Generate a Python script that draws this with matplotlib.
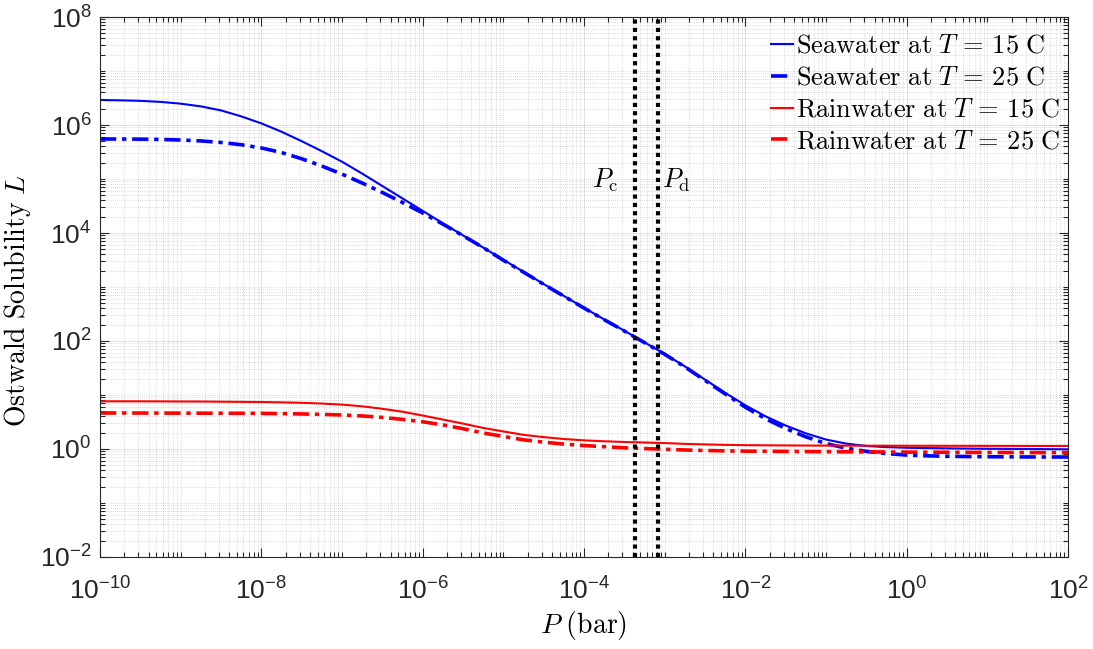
import numpy as np
import matplotlib
matplotlib.use("Agg")
import matplotlib.pyplot as plt
from matplotlib.ticker import LogLocator, FixedLocator, FuncFormatter, NullFormatter

# log10 of pressure (bar), quarter-decade steps
log_P = [-10.0, -9.75, -9.5, -9.25, -9.0, -8.75, -8.5, -8.25, -8.0, -7.75,
         -7.5, -7.25, -7.0, -6.75, -6.5, -6.25, -6.0, -5.75, -5.5, -5.25,
         -5.0, -4.75, -4.5, -4.25, -4.0, -3.75, -3.5, -3.25, -3.0, -2.75,
         -2.5, -2.25, -2.0, -1.75, -1.5, -1.25, -1.0, -0.75, -0.5, -0.25,
         0.0, 0.25, 0.5, 0.75, 1.0, 1.25, 1.5, 1.75, 2.0]

# log10 of Ostwald solubility L
log_L_sea_15 = [6.463, 6.457, 6.447, 6.428, 6.395, 6.345, 6.270, 6.160, 6.030, 5.875,
                5.700, 5.515, 5.320, 5.100, 4.870, 4.640, 4.410, 4.180, 3.955, 3.730,
                3.505, 3.280, 3.055, 2.835, 2.615, 2.400, 2.190, 1.975, 1.760, 1.530,
                1.285, 1.040, 0.810, 0.605, 0.435, 0.290, 0.175, 0.100, 0.056, 0.035,
                0.023, 0.017, 0.012, 0.008, 0.004, 0.002, 0.000, -0.003, -0.006]
log_L_sea_25 = [5.741, 5.740, 5.738, 5.733, 5.722, 5.705, 5.677, 5.635, 5.575, 5.490,
                5.375, 5.240, 5.090, 4.925, 4.750, 4.565, 4.370, 4.165, 3.950, 3.730,
                3.495, 3.275, 3.050, 2.830, 2.610, 2.395, 2.185, 1.970, 1.755, 1.520,
                1.270, 1.020, 0.775, 0.560, 0.380, 0.225, 0.100, 0.015, -0.044, -0.085,
                -0.112, -0.126, -0.135, -0.140, -0.143, -0.145, -0.147, -0.148, -0.148]
log_L_rain_15 = [0.883, 0.883, 0.883, 0.882, 0.880, 0.879, 0.876, 0.873, 0.870, 0.864,
                 0.855, 0.842, 0.822, 0.790, 0.745, 0.690, 0.620, 0.545, 0.470, 0.390,
                 0.325, 0.262, 0.220, 0.185, 0.160, 0.143, 0.130, 0.120, 0.110, 0.095,
                 0.085, 0.077, 0.071, 0.068, 0.066, 0.064, 0.063, 0.062, 0.061, 0.061,
                 0.060, 0.060, 0.059, 0.059, 0.058, 0.058, 0.057, 0.057, 0.057]
log_L_rain_25 = [0.667, 0.667, 0.666, 0.665, 0.664, 0.663, 0.662, 0.661, 0.659, 0.655,
                 0.649, 0.641, 0.630, 0.612, 0.585, 0.548, 0.504, 0.447, 0.375, 0.297,
                 0.232, 0.170, 0.127, 0.090, 0.064, 0.043, 0.022, 0.008, -0.005, -0.018,
                 -0.028, -0.035, -0.040, -0.043, -0.045, -0.048, -0.050, -0.052, -0.054, -0.056,
                 -0.058, -0.059, -0.060, -0.062, -0.063, -0.064, -0.065, -0.066, -0.066]

# Characteristic pressures (bar)
P_c = 4.3e-4
P_d = 8.2e-4

# Labelled tick decades
x_tick_exp = [-10, -8, -6, -4, -2, 0, 2]
y_tick_exp = [-2, 0, 2, 4, 6, 8]

labels = [r"$\mathrm{Seawater\ at\ }T\,=\,15\ \mathrm{C}$",
          r"$\mathrm{Seawater\ at\ }T\,=\,25\ \mathrm{C}$",
          r"$\mathrm{Rainwater\ at\ }T\,=\,15\ \mathrm{C}$",
          r"$\mathrm{Rainwater\ at\ }T\,=\,25\ \mathrm{C}$"]

plt.rcParams["font.family"] = ["Liberation Sans", "DejaVu Sans"]
plt.rcParams["mathtext.fontset"] = "cm"

axis_gray = "#262626"
dashdot = (0, (4.5, 1.6, 1.2, 1.6))

P = 10.0 ** np.array(log_P)
series = [
    (10.0 ** np.array(log_L_sea_15), (0, 0, 1), 1.5, "-"),
    (10.0 ** np.array(log_L_sea_25), (0, 0, 1), 2.6, dashdot),
    (10.0 ** np.array(log_L_rain_15), (1, 0, 0), 1.5, "-"),
    (10.0 ** np.array(log_L_rain_25), (1, 0, 0), 2.6, dashdot),
]

fig = plt.figure(figsize=(10.93, 6.49), dpi=100)
ax = fig.add_axes([100 / 1093, 1 - 557 / 649, 968 / 1093, 540 / 649])

for (L, col, lw, ls), lab in zip(series, labels):
    ax.plot(P, L, color=col, lw=lw, ls=ls, label=lab)

for p in (P_c, P_d):
    ax.axvline(p, color="k", lw=3, ls=(0, (1, 1)), dash_capstyle="butt", zorder=3)

ax.set_xscale("log")
ax.set_yscale("log")
ax.set_xlim(1e-10, 1e2)
ax.set_ylim(1e-2, 1e8)

ax.xaxis.set_major_locator(FixedLocator(10.0 ** np.array(x_tick_exp)))
ax.yaxis.set_major_locator(FixedLocator(10.0 ** np.array(y_tick_exp)))
ax.xaxis.set_minor_locator(LogLocator(base=10, subs=np.arange(1, 10), numticks=100))
ax.yaxis.set_minor_locator(LogLocator(base=10, subs=np.arange(1, 10), numticks=100))
ax.xaxis.set_minor_formatter(NullFormatter())
ax.yaxis.set_minor_formatter(NullFormatter())
exp_fmt = FuncFormatter(lambda v, pos: r"$\mathregular{10^{%d}}$" % int(round(np.log10(v))))
ax.xaxis.set_major_formatter(exp_fmt)
ax.yaxis.set_major_formatter(exp_fmt)

ax.tick_params(which="both", direction="in", top=True, right=True,
               color=axis_gray, labelcolor=axis_gray, width=0.8)
ax.tick_params(which="major", length=6.5, labelsize=19)
ax.tick_params(axis="x", which="major", pad=15)
ax.tick_params(axis="y", which="major", pad=6)
ax.tick_params(which="minor", length=3.6)
for s in ax.spines.values():
    s.set_color(axis_gray)
    s.set_linewidth(0.8)

ax.grid(True, which="major", color=axis_gray, alpha=0.15, lw=0.6, ls="-")
ax.grid(True, which="minor", color=axis_gray, alpha=0.22, lw=0.6, ls=(0, (1, 1.5)))
ax.set_axisbelow(True)

ax.set_xlabel(r"$P\ \mathrm{(bar)}$", fontsize=20, labelpad=3)
ax.set_ylabel(r"$\mathrm{Ostwald\ Solubility\ }L$", fontsize=20)
ax.yaxis.set_label_coords(-0.069, 0.474)

ax.annotate(r"$P_\mathrm{c}$", xy=(P_c, 9.5e4), xytext=(-12, 0),
            textcoords="offset points", ha="right", va="center", fontsize=19)
ax.annotate(r"$P_\mathrm{d}$", xy=(P_d, 9.5e4), xytext=(3, 0),
            textcoords="offset points", ha="left", va="center", fontsize=19)

leg = ax.legend(loc="upper right", bbox_to_anchor=(1.0, 1.0 - 9 / 540), fontsize=19,
                frameon=False, handlelength=0.85, handletextpad=0.1,
                labelspacing=0.3, borderaxespad=0.0, borderpad=0.3)

fig.savefig("out.png", dpi=100)
